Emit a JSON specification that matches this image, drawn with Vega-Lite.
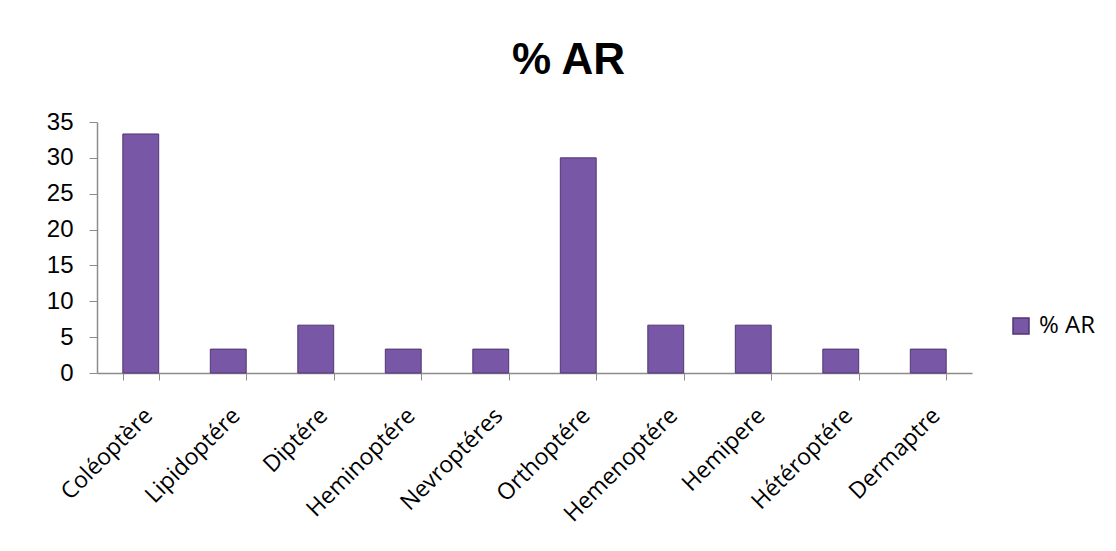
{
  "$schema": "https://vega.github.io/schema/vega-lite/v6.json",
  "autosize": "none",
  "width": 875,
  "height": 251,
  "padding": {"left": 97, "top": 122, "right": 144, "bottom": 178},
  "background": "white",
  "title": {
    "text": "% AR",
    "fontSize": 44,
    "fontWeight": "bold",
    "font": "Liberation Sans",
    "color": "black",
    "anchor": "middle",
    "dx": 34,
    "offset": 27
  },
  "data": {
    "values": [
      {"ordre": "Coléoptère", "AR": 33.33},
      {"ordre": "Lipidoptére", "AR": 3.33},
      {"ordre": "Diptére", "AR": 6.67},
      {"ordre": "Heminoptére", "AR": 3.33},
      {"ordre": "Nevroptéres", "AR": 3.33},
      {"ordre": "Orthoptére", "AR": 30.0},
      {"ordre": "Hemenoptére", "AR": 6.67},
      {"ordre": "Hemipere", "AR": 6.67},
      {"ordre": "Hétéroptére", "AR": 3.33},
      {"ordre": "Dermaptre", "AR": 3.33}
    ]
  },
  "mark": {"type": "bar", "stroke": "#4F3672", "strokeWidth": 1},
  "encoding": {
    "x": {
      "field": "ordre",
      "type": "nominal",
      "sort": null,
      "scale": {"paddingInner": 0.59, "paddingOuter": 0.295},
      "axis": {
        "title": null,
        "labelAngle": -45,
        "labelFont": "Open Sans",
        "labelFontSize": 23,
        "labelColor": "black",
        "labelPadding": 24,
        "tickBand": "extent",
        "tickColor": "#8c8c8c",
        "tickSize": 7,
        "domainColor": "#8c8c8c",
        "domainWidth": 1.5
      }
    },
    "y": {
      "field": "AR",
      "type": "quantitative",
      "scale": {"domain": [0, 35], "nice": false},
      "axis": {
        "title": null,
        "values": [0, 5, 10, 15, 20, 25, 30, 35],
        "grid": false,
        "labelFont": "Liberation Sans",
        "labelFontSize": 24,
        "labelColor": "black",
        "labelPadding": 16,
        "tickColor": "#8c8c8c",
        "tickSize": 8,
        "domainColor": "#8c8c8c",
        "domainWidth": 1.5
      }
    },
    "color": {
      "datum": "% AR",
      "type": "nominal",
      "scale": {"range": ["#7857A6"]},
      "legend": {
        "title": null,
        "orient": "none",
        "legendX": 912,
        "legendY": 192,
        "symbolType": "square",
        "symbolSize": 256,
        "symbolStrokeColor": "#4F3672",
        "labelFont": "Open Sans",
        "labelFontSize": 24,
        "labelColor": "black",
        "labelOffset": 6
      }
    }
  },
  "config": {"view": {"stroke": null}}
}
